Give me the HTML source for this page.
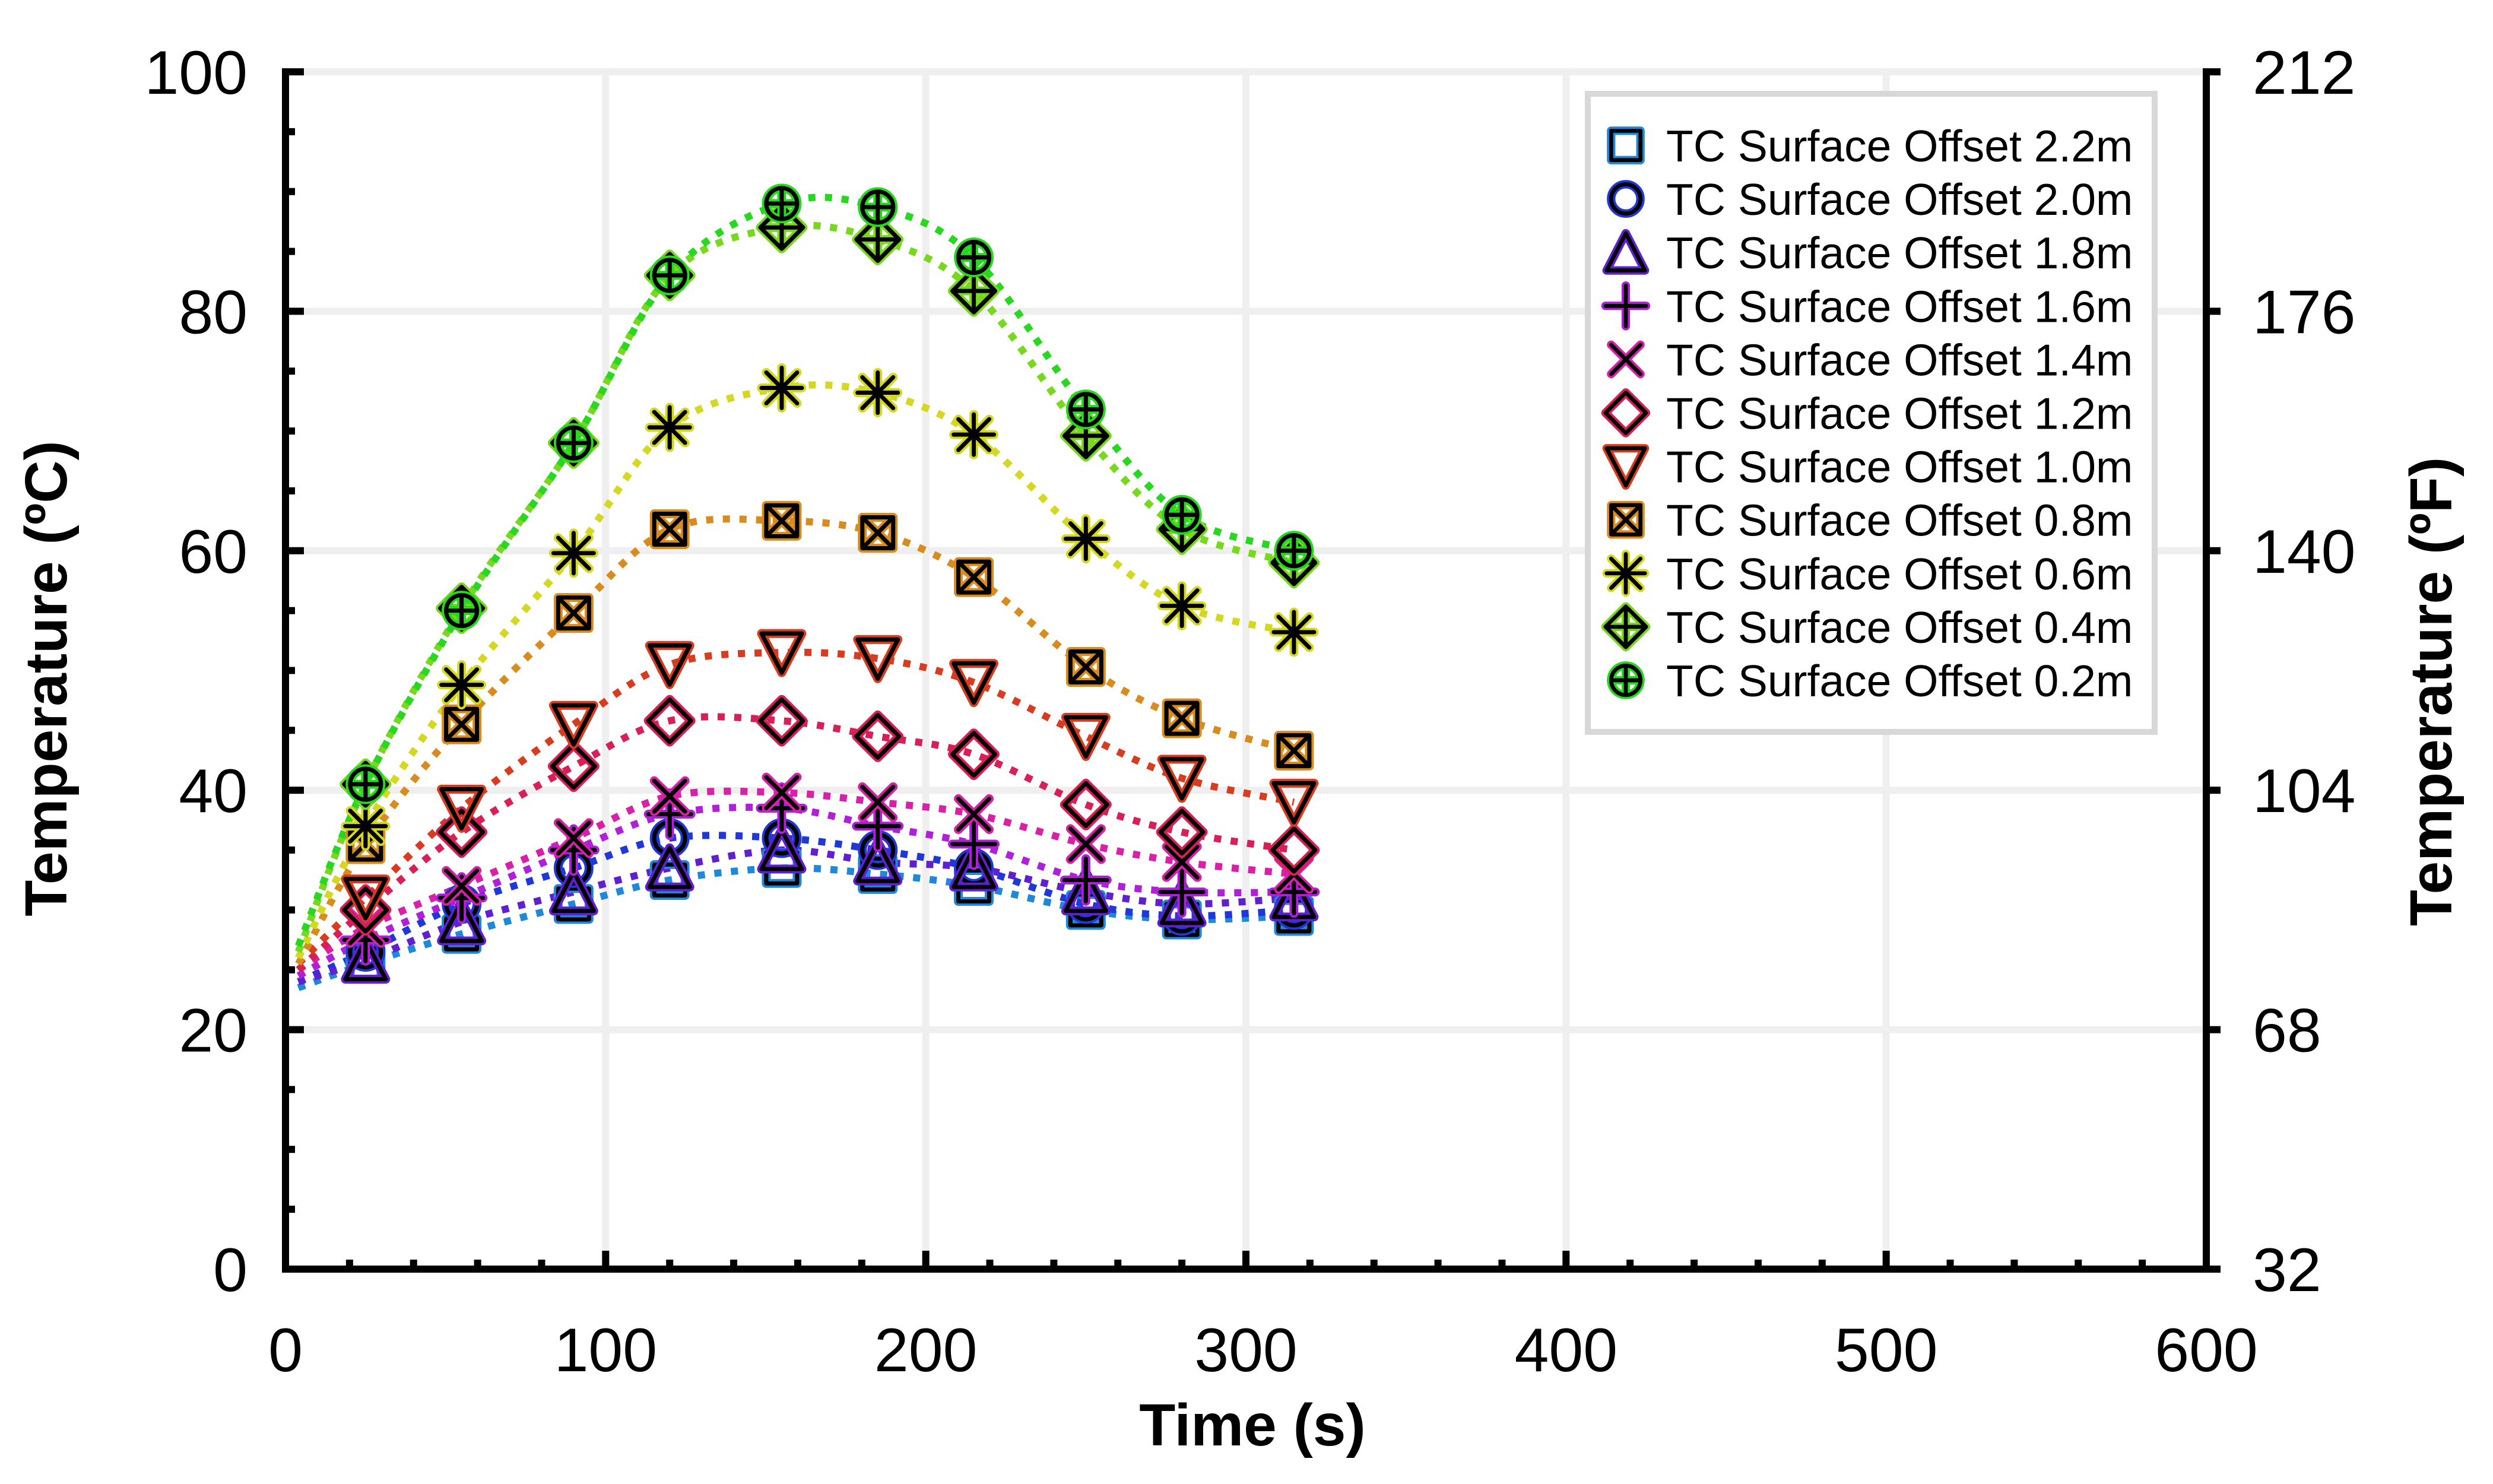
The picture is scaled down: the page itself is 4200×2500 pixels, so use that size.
<!DOCTYPE html>
<html><head><meta charset="utf-8"><style>
html,body{margin:0;padding:0;background:#fff;}
svg{display:block;}
text{font-family:"Liberation Sans",Arial,sans-serif;}
</style></head><body>
<svg id="chart" width="4200" height="2500" viewBox="0 0 4200 2500" xmlns="http://www.w3.org/2000/svg">
<g id="grid"></g>
<g id="series"></g>
<g id="axes"></g>
<text x="2110" y="2435" font-size="100" font-weight="bold" text-anchor="middle">Time (s)</text>
<text transform="translate(112,1143) rotate(-90)" font-size="100" font-weight="bold" text-anchor="middle">Temperature (ºC)</text>
<text transform="translate(4130,1165) rotate(-90)" font-size="100" font-weight="bold" text-anchor="middle">Temperature (ºF)</text>
<g id="legend"></g>
</svg>
<script>
const times = [4, 25, 55, 90, 120, 155, 185, 215, 250, 280, 315];
const seriesNames = ["TC Surface Offset 2.2m","TC Surface Offset 2.0m","TC Surface Offset 1.8m","TC Surface Offset 1.6m","TC Surface Offset 1.4m","TC Surface Offset 1.2m","TC Surface Offset 1.0m","TC Surface Offset 0.8m","TC Surface Offset 0.6m","TC Surface Offset 0.4m","TC Surface Offset 0.2m"];
const s22 = [23.5, 25.5, 28.0, 30.5, 32.5, 33.5, 33.0, 32.0, 30.0, 29.2, 29.5];
const s20 = [24.0, 26.5, 30.5, 33.5, 36.0, 36.0, 35.0, 33.5, 30.5, 29.5, 30.0];
const s18 = [24.0, 25.8, 29.0, 31.5, 33.5, 35.0, 34.0, 33.5, 31.5, 30.5, 31.0];
const s16 = [24.5, 27.5, 31.0, 35.0, 38.0, 38.5, 37.0, 35.5, 32.5, 31.5, 31.5];
const s14 = [25.0, 28.5, 32.0, 36.0, 39.5, 39.8, 39.0, 38.0, 35.5, 34.0, 33.0];
const s12 = [25.0, 30.0, 36.5, 42.0, 45.8, 45.8, 44.5, 43.0, 38.8, 36.5, 35.0];
const s10 = [25.5, 31.0, 38.5, 45.5, 50.5, 51.5, 51.0, 49.0, 44.5, 41.0, 39.0];
const s08 = [25.5, 35.5, 45.5, 54.8, 61.8, 62.5, 61.5, 57.8, 50.3, 46.0, 43.3];
const s06 = [26.0, 37.0, 48.8, 59.8, 70.3, 73.6, 73.2, 69.7, 61.0, 55.4, 53.2];
const s04 = [26.5, 40.5, 55.2, 69.0, 83.0, 87.0, 86.0, 81.7, 69.6, 61.8, 59.0];
const s02 = [27.0, 40.5, 55.0, 69.0, 83.0, 89.0, 88.7, 84.5, 71.8, 63.0, 60.0];
const xTicks = [0, 100, 200, 300, 400, 500, 600];
const yTicks = [0, 20, 40, 60, 80, 100];
const fTicks = [32, 68, 104, 140, 176, 212];

const allSeries = [s22,s20,s18,s16,s14,s12,s10,s08,s06,s04,s02];
const colors = ["#2088d8","#2038d8","#6020d0","#b020d8","#d820a8","#d82058","#d83c20","#d88c20","#d4d820","#78d820","#28d820"];
const shapes = ["square","circle","tri","plus","x","diamond","tridown","boxx","star","diamondplus","circleplus"];

const X0=481, X1=3717, Y0=2138, Y1=121;
const xs = t => X0 + (t-0)/600*(X1-X0);
const ys = v => Y0 - (v-0)/100*(Y0-Y1);
const NS="http://www.w3.org/2000/svg";
function mk(tag, attrs, parent){const e=document.createElementNS(NS,tag);for(const k in attrs)e.setAttribute(k,attrs[k]);parent.appendChild(e);return e;}

const grid=document.getElementById('grid');
xTicks.forEach(t=>{ if(t>0&&t<600){const l=mk('line',{x1:xs(t),x2:xs(t),y1:Y1-6,y2:Y0,stroke:'#efefef','stroke-width':12},grid);

}});
yTicks.forEach(v=>{ if(v>0){const l=mk('line',{x1:X0,x2:X1,y1:ys(v),y2:ys(v),stroke:'#efefef','stroke-width':12},grid);

}});

const axes=document.getElementById('axes');
mk('line',{x1:X0,x2:X0,y1:Y1-6,y2:Y0+6,stroke:'#000','stroke-width':12},axes);
mk('line',{x1:X1,x2:X1,y1:Y1-6,y2:Y0+6,stroke:'#000','stroke-width':12},axes);
mk('line',{x1:X0-6,x2:X1+6,y1:Y0,y2:Y0,stroke:'#000','stroke-width':12},axes);
mk('line',{x1:X0,x2:X0+30,y1:Y1,y2:Y1,stroke:'#000','stroke-width':12},axes);
for(let v=0;v<=100;v+=5){const maj=v%20===0;
 mk('line',{x1:X0,x2:X0+(maj?31:16),y1:ys(v),y2:ys(v),stroke:'#000','stroke-width':12},axes);
 if(maj) mk('line',{x1:X1,x2:X1+24,y1:ys(v),y2:ys(v),stroke:'#000','stroke-width':12},axes);}
for(let t=0;t<=600;t+=20){const maj=t%100===0;
 mk('line',{x1:xs(t),x2:xs(t),y1:Y0,y2:Y0-(maj?31:16),stroke:'#000','stroke-width':12},axes);}
xTicks.forEach(t=>{const e=mk('text',{x:xs(t),y:2310,'font-size':104,'text-anchor':'middle'},axes);e.textContent=t;

});
yTicks.forEach(v=>{const e=mk('text',{x:417,y:ys(v)+37,'font-size':104,'text-anchor':'end'},axes);e.textContent=v;

});
fTicks.forEach((f,i)=>{const e=mk('text',{x:3795,y:ys(yTicks[i])+37,'font-size':104,'text-anchor':'start'},axes);e.textContent=f;

});

function marker(shape,cx,cy,col,parent,sc){
 sc=sc||1;const g=mk('g',{transform:`translate(${cx},${cy}) scale(${sc})`},parent);
 const r=26;
 const draw=(stroke,w)=>{const a={fill:'none',stroke:stroke,'stroke-width':w,'stroke-linejoin':'round','stroke-linecap':'round'};
  const P=(d)=>mk('path',Object.assign({d:d},a),g);
  switch(shape){
   case 'square':P(`M${-r},${-r}H${r}V${r}H${-r}Z`);break;
   case 'circle':mk('circle',Object.assign({cx:0,cy:0,r:r},a),g);break;
   case 'tri':P(`M0,${-r-8}L${r+8},${r+6}H${-r-8}Z`);break;
   case 'tridown':P(`M0,${r+8}L${r+8},${-r-6}H${-r-8}Z`);break;
   case 'plus':P(`M0,${-r-10}V${r+10}M${-r-10},0H${r+10}`);break;
   case 'x':P(`M${-r},${-r}L${r},${r}M${r},${-r}L${-r},${r}`);break;
   case 'diamond':P(`M0,${-r-10}L${r+10},0L0,${r+10}L${-r-10},0Z`);break;
   case 'boxx':P(`M${-r},${-r}H${r}V${r}H${-r}ZM${-r},${-r}L${r},${r}M${r},${-r}L${-r},${r}`);break;
   case 'star':P(`M0,${-r-8}V${r+8}M${-r-8},0H${r+8}M${-r},${-r}L${r},${r}M${r},${-r}L${-r},${r}`);break;
   case 'diamondplus':P(`M0,${-r-10}L${r+10},0L0,${r+10}L${-r-10},0ZM0,${-r-10}V${r+10}M${-r-10},0H${r+10}`);break;
   case 'circleplus':mk('circle',Object.assign({cx:0,cy:0,r:r},a),g);P(`M0,${-r}V${r}M${-r},0H${r}`);break;
  }};
 draw(col,15);draw('#000',7);
 return g;
}

function spline(pts){let d=`M${pts[0][0]},${pts[0][1]}`;
 for(let i=0;i<pts.length-1;i++){const p0=pts[Math.max(0,i-1)],p1=pts[i],p2=pts[i+1],p3=pts[Math.min(pts.length-1,i+2)];
  const c1=[p1[0]+(p2[0]-p0[0])/6,p1[1]+(p2[1]-p0[1])/6],c2=[p2[0]-(p3[0]-p1[0])/6,p2[1]-(p3[1]-p1[1])/6];
  d+=`C${c1[0]},${c1[1]} ${c2[0]},${c2[1]} ${p2[0]},${p2[1]}`;}
 return d;}

const sg=document.getElementById('series');
allSeries.forEach((vals,si)=>{
 const pts=times.map((t,i)=>[xs(t),ys(vals[i])]);
 const p=mk('path',{d:spline(pts),fill:'none',stroke:colors[si],'stroke-width':12,'stroke-dasharray':'12 16'},sg);
 
 
});
allSeries.forEach((vals,si)=>{
 times.forEach((t,i)=>{ if(i===0)return;
  const m=marker(shapes[si],xs(t),ys(vals[i]),colors[si],sg);
  
  
 });
});

const lg=document.getElementById('legend');
const box=mk('rect',{x:2675,y:158,width:955,height:1075,fill:'#fff',stroke:'#d8d8d8','stroke-width':10},lg);


seriesNames.forEach((n,i)=>{
 const cy=245+i*90.1;
 const m=marker(shapes[i],2739,cy,colors[i],lg,0.95);
 
 
 const t=mk('text',{x:2807,y:cy+27,'font-size':75},lg);t.textContent=n;
 
 
});
</script>
</body></html>
